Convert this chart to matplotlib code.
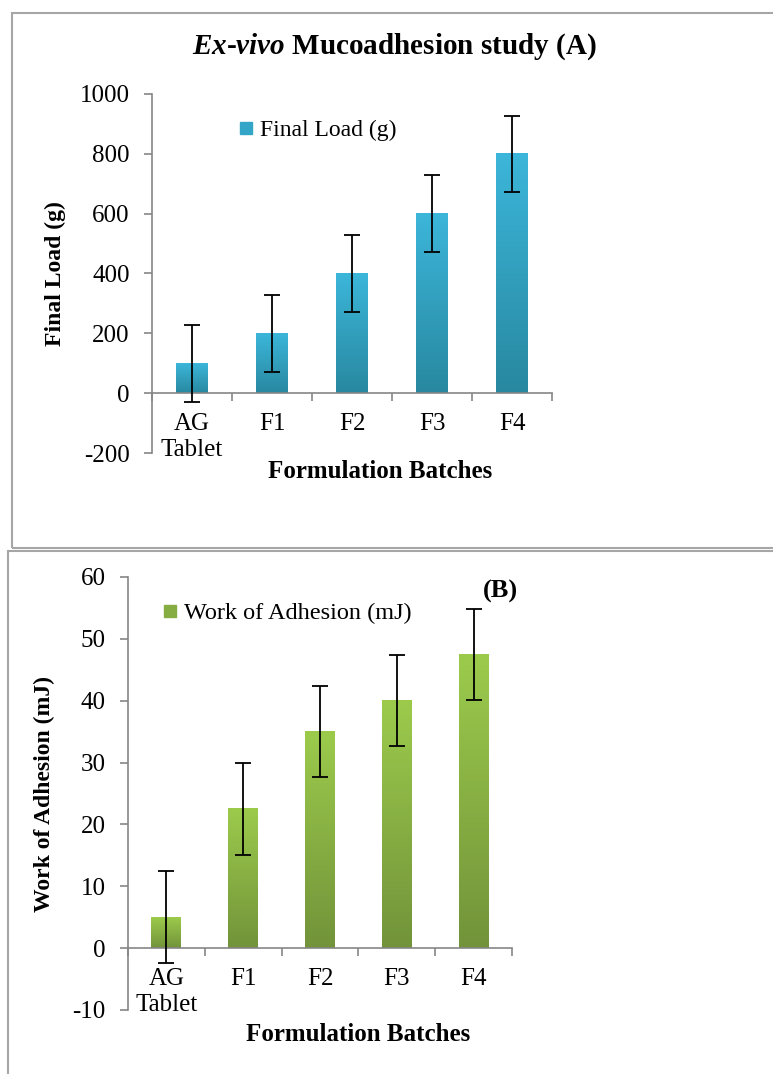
import numpy as np
import matplotlib.pyplot as plt
from matplotlib.patches import Rectangle
from matplotlib.colors import LinearSegmentedColormap
from matplotlib.lines import Line2D

plt.rcParams['font.family'] = ['Liberation Serif', 'DejaVu Serif']
plt.rcParams['mathtext.fontset'] = 'custom'
plt.rcParams['mathtext.it'] = 'Liberation Serif:italic:bold'
plt.rcParams['mathtext.rm'] = 'Liberation Serif'
plt.rcParams['axes.unicode_minus'] = False

# data
batches = ['AG\nTablet', 'F1', 'F2', 'F3', 'F4']
final_load = [100, 200, 400, 600, 800]
final_load_err = [128, 128, 128, 128, 128]
work_adh = [5, 22.5, 35, 40, 47.5]
work_adh_err = [7.4, 7.4, 7.4, 7.4, 7.4]

W, H = 773, 1074
fig = plt.figure(figsize=(W / 100, H / 100), dpi=100)

def px_axes(l, t, r, b):
    return fig.add_axes([l / W, 1 - b / H, (r - l) / W, (b - t) / H])

# panel frames
fig.add_artist(Rectangle((12 / W, 1 - 548 / H), 1.0, (548 - 13) / H,
                         transform=fig.transFigure, fill=False,
                         edgecolor='#a6a6a6', lw=1.5))
fig.add_artist(Rectangle((8 / W, -0.05), 1.0, (1074 - 551) / H + 0.05,
                         transform=fig.transFigure, fill=False,
                         edgecolor='#a6a6a6', lw=1.5))

axc = '#868686'

def grad_bars(ax, vals, errs, top, bottom, ylim):
    cmap = LinearSegmentedColormap.from_list('g', [bottom, top])
    x = np.arange(len(vals))
    bars = ax.bar(x, vals, width=0.39, color='none', zorder=2)
    grad = np.linspace(0, 1, 256).reshape(-1, 1)
    for b in bars:
        x0, y0 = b.get_x(), b.get_y()
        ax.imshow(grad, cmap=cmap, origin='lower', aspect='auto',
                  extent=[x0, x0 + b.get_width(), y0, y0 + b.get_height()],
                  zorder=2)
    ax.errorbar(x, vals, yerr=errs, fmt='none', ecolor='black',
                elinewidth=1.3, capsize=5.5, capthick=1.3, zorder=4)
    ax.set_xlim(-0.5, len(vals) - 0.5)
    ax.set_ylim(*ylim)
    for s in ['top', 'right']:
        ax.spines[s].set_visible(False)
    ax.spines['bottom'].set_position(('data', 0))
    ax.spines['left'].set_color(axc)
    ax.spines['bottom'].set_color(axc)
    ax.spines['left'].set_linewidth(1.2)
    ax.spines['bottom'].set_linewidth(1.2)
    ax.set_xticks(x)
    ax.set_xticklabels(batches, fontsize=18, linespacing=1.25)
    ax.set_xticks(np.arange(len(vals) + 1) - 0.5, minor=True)
    ax.tick_params(axis='x', which='major', length=0, pad=14)
    ax.tick_params(axis='x', which='minor', length=6, color=axc, width=1.2)
    ax.tick_params(axis='y', length=6, color=axc, width=1.2, labelsize=18, pad=10)

# panel A
axA = px_axes(152, 94, 552, 453)
grad_bars(axA, final_load, final_load_err, '#3cb6da', '#2888a0', (-200, 1000))
axA.set_yticks(np.arange(-200, 1001, 200))
axA.set_ylabel('Final Load (g)', fontsize=17, fontweight='bold')
axA.yaxis.set_label_coords(-0.215, 0.5)
axA.set_xlabel('Formulation Batches', fontsize=18, fontweight='bold')
axA.xaxis.set_label_coords(0.57, -0.02)
fig.text(394 / W, 1 - 47 / H, r'$\mathit{Ex}$-$\mathit{vivo}$ Mucoadhesion study (A)',
         ha='center', va='center', fontsize=21, fontweight='bold')
hA = Line2D([], [], marker='s', ls='none', markersize=9, color='#33a5c6')
axA.legend([hA], ['Final Load (g)'], loc='center left', frameon=False,
           bbox_to_anchor=(232 / W, 1 - 130 / H), bbox_transform=fig.transFigure,
           fontsize=17, handletextpad=0.0, handlelength=1.2,
           borderaxespad=0, borderpad=0)

# panel B
axB = px_axes(128, 577, 512, 1010)
grad_bars(axB, work_adh, work_adh_err, '#9ccb4c', '#72933a', (-10, 60))
axB.set_yticks(np.arange(-10, 61, 10))
axB.set_ylabel('Work of Adhesion (mJ)', fontsize=17, fontweight='bold')
axB.yaxis.set_label_coords(-0.19, 0.5)
axB.set_xlabel('Formulation Batches', fontsize=18, fontweight='bold')
axB.xaxis.set_label_coords(0.60, -0.03)
fig.text(500 / W, 1 - 591 / H, '(B)', ha='center', va='center',
         fontsize=19, fontweight='bold')
hB = Line2D([], [], marker='s', ls='none', markersize=9, color='#86ad42')
axB.legend([hB], ['Work of Adhesion (mJ)'], loc='center left', frameon=False,
           bbox_to_anchor=(155 / W, 1 - 613 / H), bbox_transform=fig.transFigure,
           fontsize=17.5, handletextpad=0.0, handlelength=1.2,
           borderaxespad=0, borderpad=0)

fig.savefig('out.png', dpi=100)
